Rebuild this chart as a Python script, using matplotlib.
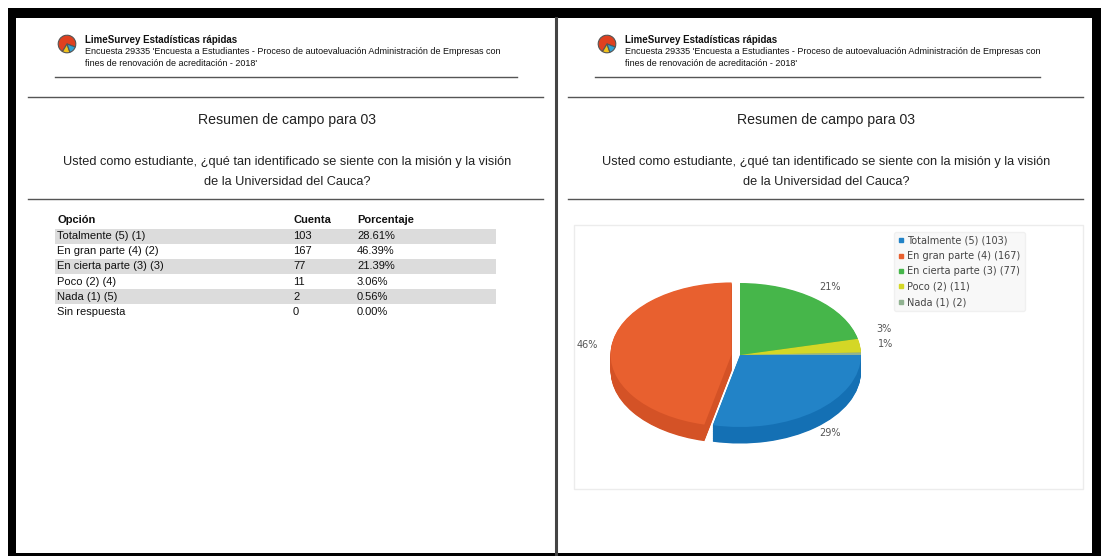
import numpy as np
import matplotlib
matplotlib.use("Agg")
import matplotlib.pyplot as plt
from matplotlib.patches import Rectangle
from matplotlib.lines import Line2D

# data
options = ["Totalmente (5) (1)", "En gran parte (4) (2)", "En cierta parte (3) (3)",
           "Poco (2) (4)", "Nada (1) (5)", "Sin respuesta"]
counts = [103, 167, 77, 11, 2, 0]
percents = [28.61, 46.39, 21.39, 3.06, 0.56, 0.00]
legend_names = ["Totalmente (5)", "En gran parte (4)", "En cierta parte (3)", "Poco (2)", "Nada (1)"]

header_title = "LimeSurvey Estadísticas rápidas"
header_l1 = "Encuesta 29335 'Encuesta a Estudiantes - Proceso de autoevaluación Administración de Empresas con"
header_l2 = "fines de renovación de acreditación - 2018'"
field_title = "Resumen de campo para 03"
question_l1 = "Usted como estudiante, ¿qué tan identificado se siente con la misión y la visión"
question_l2 = "de la Universidad del Cauca?"

top_colors = ["#2283c7", "#e8602f", "#46b64a", "#d4d726", "#91b391"]
side_colors = ["#1470b4", "#d45226", "#3aa13e", "#bcbf1e", "#7d9f7d"]

W, H = 1101, 556

fig = plt.figure(figsize=(W / 100, H / 100), dpi=100)
bg = fig.add_axes([0, 0, 1, 1])
bg.set_xlim(0, W)
bg.set_ylim(H, 0)
bg.axis("off")

# frame
bg.add_patch(Rectangle((8, 8), W - 8, 10, color="black", lw=0))
bg.add_patch(Rectangle((8, 8), 8, H, color="black", lw=0))
bg.add_patch(Rectangle((1092, 8), 9, H, color="black", lw=0))
bg.add_patch(Rectangle((8, 553), W, 3, color="black", lw=0))
bg.plot([556, 556], [18, H], color="#444444", lw=2.2)


def draw_logo(cx, cy):
    lax = fig.add_axes([(cx - 11) / W, (H - cy - 11) / H, 22 / W, 22 / H])
    lax.pie([72, 14, 14], colors=["#e0401f", "#f2c21b", "#2fa3d6"], startangle=-20,
            counterclock=True, wedgeprops=dict(edgecolor="#555555", linewidth=0.8))
    lax.set_aspect("equal")


def draw_header(off, line_end):
    draw_logo(67 + off, 44)
    bg.text(85 + off, 40, header_title, fontsize=7, fontweight="bold", family="Liberation Sans",
            va="center", color="#111111")
    bg.text(85 + off, 52, header_l1, fontsize=6.5, family="Liberation Sans", va="center",
            color="#111111")
    bg.text(85 + off, 63, header_l2, fontsize=6.5, family="Liberation Sans", va="center",
            color="#111111")
    bg.plot([55 + off, line_end], [77, 77], color="#555555", lw=1)


def draw_titles(x0, x1, cx):
    bg.plot([x0, x1], [97, 97], color="#555555", lw=1)
    bg.text(cx, 120, field_title, fontsize=10.2, family="Liberation Sans", ha="center",
            va="center", color="#222222")
    bg.text(cx, 162, question_l1, fontsize=9.2, family="Liberation Sans", ha="center",
            va="center", color="#222222")
    bg.text(cx, 182, question_l2, fontsize=9.2, family="Liberation Sans", ha="center",
            va="center", color="#222222")
    bg.plot([x0, x1], [199, 199], color="#555555", lw=1)


draw_header(0, 517)
draw_header(540, 1040)
draw_titles(28, 543, 287)
draw_titles(568, 1083, 826)

# table
tf = dict(fontsize=8, family="Liberation Sans", va="center", color="#111111")
bg.text(57, 220, "Opción", fontweight="bold", **tf)
bg.text(293, 220, "Cuenta", fontweight="bold", **tf)
bg.text(357, 220, "Porcentaje", fontweight="bold", **tf)
for i, (opt, c, p) in enumerate(zip(options, counts, percents)):
    y = 236 + i * 15.2
    if i % 2 == 0:
        bg.add_patch(Rectangle((55, y - 7.5), 441, 15, color="#dcdcdc", lw=0))
    bg.text(57, y, opt, **tf)
    bg.text(293, y, str(c), **tf)
    bg.text(357, y, f"{p:.2f}%", **tf)

# chart box
bg.add_patch(Rectangle((574, 225), 509, 264, fill=False, edgecolor="#ececec", lw=1))

# 3D pie
vals = counts[:5]
cx, cy = 740, 355
rx, ry = 121, 72
aw, ah = 300, 240
pax = fig.add_axes([(cx - aw / 2) / W, (H - cy - ah / 2) / H, aw / W, ah / H])
explode = [0, 0.07, 0, 0, 0]
depth = 0.23
nlay = 24
for k in range(nlay):
    off = -depth * (1 - k / nlay)
    pax.pie(vals, colors=side_colors, startangle=0, counterclock=False,
            explode=explode, center=(0, off), wedgeprops=dict(linewidth=0))
wedges, _ = pax.pie(vals, colors=top_colors, startangle=0, counterclock=False,
                    explode=explode, wedgeprops=dict(linewidth=0))
pax.set_aspect("auto")
pax.set_xlim(-aw / 2 / rx, aw / 2 / rx)
pax.set_ylim(-ah / 2 / ry, ah / 2 / ry)
pax.axis("off")

# data labels around the pie, spread apart when slices are thin
labels = [f"{round(p):d}%" for p in percents[:5]]
pos = []
for w, v in zip(wedges, explode):
    th = np.deg2rad((w.theta1 + w.theta2) / 2)
    x = 1.2 * np.cos(th) + v * np.cos(th)
    y = 1.2 * np.sin(th)
    if y < 0:
        y -= depth * 0.6
    pos.append([x, y])
min_gap = 15 / ry
right = sorted([i for i in range(len(pos)) if pos[i][0] > 0], key=lambda i: pos[i][1])
for a, b in zip(right[:-1], right[1:]):
    if pos[b][1] - pos[a][1] < min_gap and pos[a][1] >= 0:
        pos[b][1] = pos[a][1] + min_gap
for i in range(len(pos)):
    if 0 <= pos[i][1] < 0.15 and pos[i][0] > 0:
        pos[i][1] = 0.15
for i in range(len(right) - 1):
    a, b = right[i], right[i + 1]
    if pos[b][1] - pos[a][1] < min_gap:
        pos[b][1] = pos[a][1] + min_gap
for (x, y), lab in zip(pos, labels):
    pax.text(x, y, lab, ha="center", va="center", fontsize=7, color="#555555",
             family="DejaVu Sans")

handles = [Line2D([], [], marker="s", ls="", color=c, markersize=3) for c in top_colors]
leg_labels = [f"{n} ({v})" for n, v in zip(legend_names, vals)]
leg = fig.legend(handles, leg_labels, loc="upper left",
                 bbox_to_anchor=(889 / W, 1 - 227 / H), frameon=True, fancybox=True,
                 facecolor="#f7f7f7", edgecolor="#eeeeee", handlelength=0.6,
                 handletextpad=0.4, labelspacing=0.55, borderpad=0.4,
                 prop=dict(family="DejaVu Sans", size=7))
for t in leg.get_texts():
    t.set_color("#444444")

fig.savefig("out.png", dpi=100)
